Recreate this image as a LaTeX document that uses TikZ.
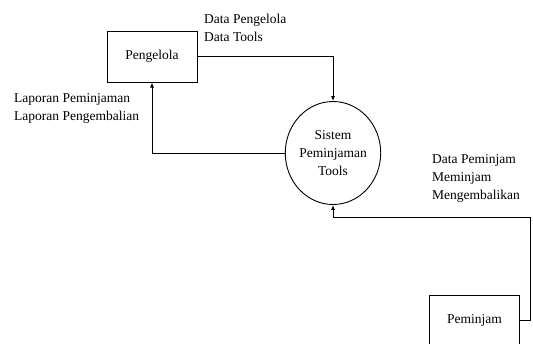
\documentclass[tikz,border=0pt]{standalone}
\usepackage{fontspec}
\setmainfont{Liberation Serif}
\usetikzlibrary{shapes.geometric,arrows.meta}
\tikzset{
  entity/.style={draw, line width=1pt, minimum width=90pt, minimum height=51pt, inner sep=0pt},
  process/.style={draw, ellipse, line width=0.9pt, minimum width=91pt, minimum height=103pt, inner sep=0pt, align=center},
  flow/.style={draw, line width=0.9pt, -{Latex[length=5pt,width=4pt]}},
  lbl/.style={anchor=north west, align=left, inner sep=0pt},
  every node/.style={font=\fontsize{13.5}{18}\selectfont}
}
\begin{document}
\begin{tikzpicture}[x=1pt,y=-1pt]
  \useasboundingbox (0,0) rectangle (533,343);
  % external entities
  \node[entity] (peng) at (152,56.5) {Pengelola};
  \node[entity] (pem) at (474.5,320.5) {Peminjam};
  % central process
  \node[process] (sys) at (333,153) {Sistem\\Peminjaman\\Tools};
  % data flows
  \draw[flow] (peng.east) -| (sys.north);
  \draw[flow] (sys.west) -| (peng.south);
  \coordinate (r1) at (530,320.5);
  \coordinate (r2) at (530,217);
  \draw[flow] (pem.east) -- (r1) -- (r2) -| (sys.south);
  % flow labels
  \node[lbl] (l1) at (204,14) {Data Pengelola\\Data Tools};
  \node[lbl] (l2) at (14,93) {Laporan Peminjaman\\Laporan Pengembalian};
  \node[lbl] (l3) at (432,154) {Data Peminjam\\Meminjam\\Mengembalikan};
\end{tikzpicture}
\end{document}
